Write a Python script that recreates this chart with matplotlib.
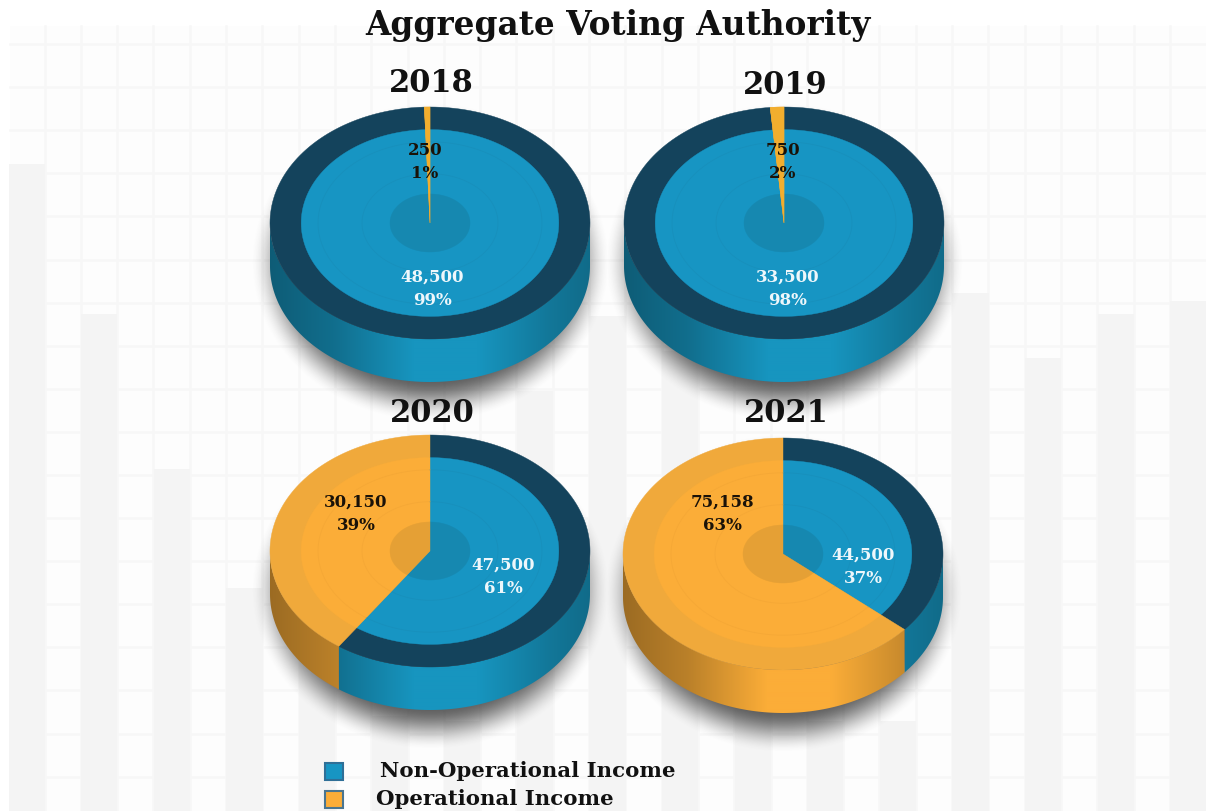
import numpy as np
import matplotlib
matplotlib.use("Agg")
import matplotlib.pyplot as plt
from matplotlib.patches import Polygon, Rectangle

# values
years = ["2018", "2019", "2020", "2021"]
non_op = [48500, 33500, 47500, 44500]
oper = [250, 750, 30150, 75158]
non_op_pct = [99, 98, 61, 37]
oper_pct = [1, 2, 39, 63]

# faint bar chart behind the discs
bg_bar_heights = [647, 497, 342, 223, 150, 95, 90, 420, 495, 460, 110, 90, 90, 518, 453, 497, 510]

# layout, in pixels of the reference
W, H = 1206, 811
centers = [(430, 223), (784, 223), (430, 551), (783, 554)]
year_xy = [(431, 83), (785, 85), (432, 414), (786, 414)]
non_op_xy = [(432, 289), (788, 289), (503, 577), (863, 567)]
oper_xy = [(425, 162), (783, 162), (356, 514), (722, 514)]
RX, RY, DEPTH = 160, 116, 43

BLUE, BLUE_RIM, BLUE_HUB, BLUE_RING = "#1795c3", "#14435c", "#1688b0", "#1790bc"
ORANGE, ORANGE_RIM, ORANGE_HUB, ORANGE_RING = "#fbad38", "#f0a93b", "#e5a035", "#f5a836"
SERIF = "DejaVu Serif"

# the original's discs are not a flat projection: share angle -> angle as drawn
share_angle = [0, 134, 220, 352, 358.2, 360]
drawn_angle = [0, 130.7, 214.5, 355, 358, 360]


def arc(c, k, a0, a1, n=200):
    # angles clockwise from 12 o'clock
    t = np.radians(np.linspace(a0, a1, n))
    return np.column_stack([c[0] + k * RX * np.sin(t), c[1] - k * RY * np.cos(t)])


def wedge(c, k, a0, a1, color):
    pts = np.vstack([[c], arc(c, k, a0, a1)])
    ax.add_patch(Polygon(pts, closed=True, fc=color, ec=color, lw=0.3, zorder=4))


def side(c, a0, a1, color):
    a0, a1 = max(a0, 90), min(a1, 270)
    if a1 <= a0:
        return
    top = arc(c, 1, a0, a1)
    bottom = top[::-1] + [0, DEPTH]
    poly = Polygon(np.vstack([top, bottom]), closed=True, fc="none", ec="none", transform=ax.transData)
    ax.add_patch(poly)
    t = np.linspace(-1, 1, 320)
    shade = np.interp(t, [-1, -0.6, -0.1, 0.3, 0.75, 1], [0.62, 0.74, 1, 1, 0.8, 0.72])
    rgb = np.array(matplotlib.colors.to_rgb(color))
    img = (shade[:, None] * rgb)[None, :, :]
    im = ax.imshow(img, extent=(c[0] - RX, c[0] + RX, c[1] + RY + DEPTH, c[1] - RY),
                   aspect="auto", zorder=3, interpolation="bilinear")
    im.set_clip_path(poly)


fig = plt.figure(figsize=(W / 100, H / 100), dpi=100, facecolor="white")
ax = fig.add_axes([0, 0, 1, 1])
ax.axis("off")

# background grid and bars
ax.add_patch(Rectangle((10, 26), W - 10, H - 26, fc="#fdfdfd", ec="none", zorder=0))
for x in np.arange(10 + 34.5, W, 36.3):
    ax.plot([x, x], [26, H], color="#f7f7f7", lw=1.8, zorder=1)
for y in np.arange(44, H, 43.1):
    ax.plot([10, W], [y, y], color="#f7f7f7", lw=1.8, zorder=1)
bg_x = 8.5 + 72.6 * np.arange(len(bg_bar_heights))
ax.bar(bg_x, -np.array(bg_bar_heights), width=36.3, bottom=H, align="edge", color="#f4f4f4", zorder=1)

# soft shadows under the discs
yy, xx = np.mgrid[0:H, 0:W]
alpha = np.zeros((H, W))
for c in centers:
    d = np.hypot((xx - c[0]) / (RX + 20), (yy - c[1] - DEPTH * 0.9) / (RY + 44))
    s = np.clip((1.0 - d) / 0.27, 0, 1)
    alpha = np.maximum(alpha, 0.8 * s * s * (3 - 2 * s))
shadow = np.zeros((H, W, 4))
shadow[..., :3] = 0.22
shadow[..., 3] = alpha
ax.imshow(shadow, extent=(0, W, H, 0), aspect="auto", zorder=2, interpolation="bilinear")

for i, c in enumerate(centers):
    split = np.interp(360 * non_op[i] / (non_op[i] + oper[i]), share_angle, drawn_angle)
    side(c, 0, split, "#1795bf")
    side(c, split, 360, "#fbad38")

    wedge(c, 1, 0, split, BLUE_RIM)
    wedge(c, 1, split, 360, ORANGE_RIM)
    wedge(c, 0.805, 0, split, BLUE)
    wedge(c, 0.805, split, 360, ORANGE)
    for k in (0.7, 0.425):
        ax.plot(*arc(c, k, 0, split).T, color=BLUE_RING, lw=0.6, zorder=5)
        ax.plot(*arc(c, k, split, 360).T, color=ORANGE_RING, lw=0.6, zorder=5)
    wedge(c, 0.25, 0, split, BLUE_HUB)
    wedge(c, 0.25, split, 360, ORANGE_HUB)
    # thin slices stay orange through the hub, as in the original
    if 360 - split < 20:
        wedge(c, 1, split, 360, "#f2ae2e")

    ax.text(*year_xy[i], years[i], family=SERIF, weight="bold", fontsize=22, color="#111111",
            ha="center", va="center", zorder=7)
    ax.text(*non_op_xy[i], f"{non_op[i]:,}\n{non_op_pct[i]}%", family=SERIF, weight="bold", fontsize=12,
            color="#eef7fb", ha="center", va="center", linespacing=1.45, zorder=7)
    ax.text(*oper_xy[i], f"{oper[i]:,}\n{oper_pct[i]}%", family=SERIF, weight="bold", fontsize=12,
            color="#1a1208", ha="center", va="center", linespacing=1.45, zorder=7)

ax.text(618, 25, "Aggregate Voting Authority", family=SERIF, weight="bold", fontsize=23.6,
        color="#111111", ha="center", va="center", zorder=7)

# legend
ax.add_patch(Rectangle((324.5, 763), 18, 17, fc=BLUE, ec="#2f6f97", lw=1.5, zorder=6))
ax.add_patch(Rectangle((324.5, 791), 18, 17, fc=ORANGE, ec="#4a7590", lw=1.5, zorder=6))
ax.text(380, 771, "Non-Operational Income", family=SERIF, weight="bold", fontsize=15.3, color="#111111",
        ha="left", va="center", zorder=7)
ax.text(376, 799, "Operational Income", family=SERIF, weight="bold", fontsize=15.3, color="#111111",
        ha="left", va="center", zorder=7)

ax.set_xlim(0, W)
ax.set_ylim(H, 0)
fig.savefig("out.png", dpi=100)
